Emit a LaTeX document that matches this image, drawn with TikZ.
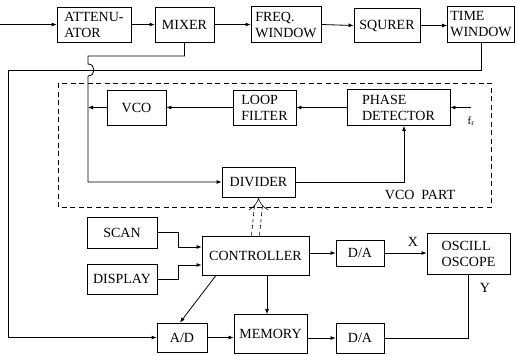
\documentclass[tikz,border=0pt]{standalone}
\usepackage{fontspec}
\setmainfont{Liberation Serif}
\usetikzlibrary{arrows.meta}
\begin{document}
\begin{tikzpicture}[x=1pt,y=-1pt,
  blk/.style={draw, line width=0.8pt, inner sep=0pt, align=left,
    font=\fontsize{14}{16}\selectfont},
  conn/.style={line width=0.8pt, -{Latex[length=5pt,width=4pt]}},
  wire/.style={line width=0.8pt},
  dwire/.style={line width=0.6pt, dash pattern=on 4pt off 2.5pt},
  lbl/.style={inner sep=0pt, font=\fontsize{14}{16}\selectfont}]
\useasboundingbox (0,0) rectangle (517,356);
% top row
\node[blk, minimum width=74pt, minimum height=35pt] (att) at (94,24.5) {ATTENU-\\ATOR};
\node[blk, minimum width=59pt, minimum height=35pt] (mix) at (184.5,24.5) {MIXER};
\node[blk, minimum width=70pt, minimum height=36pt] (fw) at (286,24.5) {FREQ.\\WINDOW};
\node[blk, minimum width=66pt, minimum height=34pt] (sq) at (387,25.5) {SQURER};
\node[blk, minimum width=67pt, minimum height=36pt] (tw) at (481,24.5) {TIME\\WINDOW};
\coordinate (in) at (0,24.5);
\draw[conn] (in) -- (att.west);
\draw[conn] (att.east) -- (mix.west);
\draw[conn] (mix.east) -- (fw.west);
\draw[conn] (fw.east) -- (sq.west);
\draw[conn] (sq.east) -- (tw.west |- sq.east);
% VCO part
\draw[line width=0.7pt, dash pattern=on 5pt off 3.5pt] (58,83) rectangle (491,207);
\node[blk, minimum width=59pt, minimum height=35pt] (vco) at (136.5,107.5) {VCO};
\node[blk, minimum width=63pt, minimum height=35pt] (lf) at (264.5,107.5) {LOOP\\FILTER};
\node[blk, minimum width=103pt, minimum height=36pt] (pd) at (398.5,107.5) {PHASE\\DETECTOR};
\node[blk, minimum width=73pt, minimum height=30pt] (div) at (258.5,182) {DIVIDER};
\node[lbl] (vcop) at (420,195) {VCO\ \ PART};
\coordinate (fr) at (471,107.5);
\node[inner sep=0pt, font=\fontsize{11}{13}\selectfont] (frl) at (471,121) {f\textsubscript{r}};
\draw[conn] (fr) -- (pd.east);
\draw[conn] (pd.west) -- (lf.east);
\draw[conn] (lf.west) -- (vco.west -| vco.east);
\coordinate (jv) at (88,107.5);
\draw[conn] (vco.west) -- (jv);
\draw[conn] (div.east) -| ([xshift=5.5pt]pd.south);
% mixer feed with jump
\draw[conn] (mix.south) -- (184.5,56) -- (88,56) -- (88,64) .. controls (96,64) and (96,76) .. (88,76) |- (div.west);
% lower part
\node[blk, minimum width=107pt, minimum height=39pt] (ctrl) at (255.5,255.5) {CONTROLLER};
\node[blk, minimum width=70pt, minimum height=31pt] (scan) at (122,232.5) {SCAN};
\node[blk, minimum width=70pt, minimum height=30pt] (disp) at (122,279) {DISPLAY};
\node[blk, minimum width=48pt, minimum height=26pt] (da1) at (360,253) {D/A};
\node[blk, minimum width=83pt, minimum height=41pt] (osc) at (468.5,253.5) {OSCILL\\OSCOPE};
\node[blk, minimum width=50pt, minimum height=29pt] (ad) at (182,337.5) {A/D};
\node[blk, minimum width=73pt, minimum height=39pt] (mem) at (270.5,334) {MEMORY};
\node[blk, minimum width=48pt, minimum height=30pt] (da2) at (360,338) {D/A};
\node[lbl] (xl) at (413,242) {X};
\node[lbl] (yl) at (485,288) {Y};
% feedback from time window
\draw[conn] (tw.south) |- (8,70) -- (8,337.5) -- (ad.west);
% double dashed control bus to divider
\draw[dwire] ([xshift=-4pt]ctrl.north) -- ([xshift=-4pt,yshift=-8pt]div.south);
\draw[dwire] ([xshift=4pt]ctrl.north) -- ([xshift=4pt,yshift=-8pt]div.south);
\draw[double, line width=0.6pt, double distance=6.5pt, -{Implies}] ([yshift=-9pt]div.south) -- (div.south);
\draw[conn] (scan.east) -- ++(21,0) |- ([yshift=8.5pt]ctrl.west);
\draw[conn] (disp.east) -- ++(21,0) |- ([yshift=-9.5pt]ctrl.west);
\draw[conn] (ctrl.east |- da1.west) -- (da1.west);
\draw[conn] (da1.east) -- (osc.west |- da1.east);
\draw[wire] (osc.south) |- (da2.east);
\draw[conn] (ad.east) -- (mem.west |- ad.east);
\draw[conn] (mem.east |- da2.west) -- (da2.west);
\draw[conn] ([xshift=11.5pt]ctrl.south) -- ([xshift=11.5pt]ctrl.south |- mem.north);
\draw[conn] ([xshift=-39.5pt]ctrl.south) -- ([xshift=-2pt]ad.north);
\end{tikzpicture}
\end{document}
